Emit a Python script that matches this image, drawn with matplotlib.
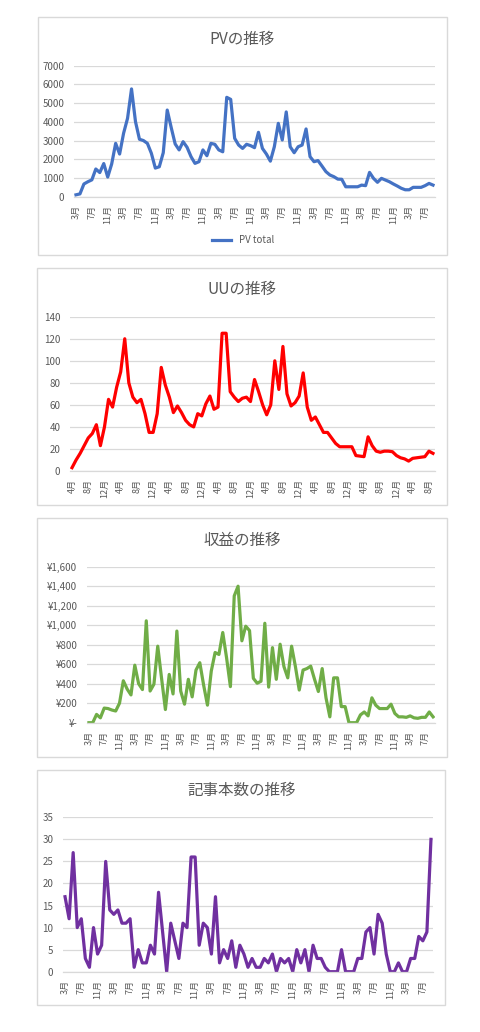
import matplotlib
matplotlib.use('Agg')
import matplotlib.pyplot as plt
from matplotlib.patches import Rectangle
from matplotlib.ticker import FuncFormatter
import numpy as np

plt.rcParams['font.family'] = ['Noto Sans CJK JP', 'DejaVu Sans']

W, H = 480, 1032

# PV (3月開始)
pv_start = 3
pv = [100, 150, 680, 800, 900, 1480, 1290, 1770, 1050, 1750,
      2850, 2280, 3390, 4190, 5760, 4010, 3070, 3000, 2850, 2320,
      1530, 1600, 2350, 4630, 3700, 2820, 2500, 2940, 2640, 2140,
      1780, 1870, 2500, 2190, 2850, 2800, 2500, 2400, 5310, 5200,
      3120, 2760, 2580, 2800, 2730, 2620, 3440, 2580, 2280, 1900,
      2670, 3920, 3030, 4530, 2670, 2350, 2670, 2760, 3620, 2140,
      1870, 1930, 1640, 1340, 1160, 1070, 940, 930, 530, 530,
      530, 530, 620, 590, 1300, 980, 770, 980, 890, 800,
      680, 570, 450, 370, 370, 500, 500, 500, 590, 710,
      620]

# UU (4月開始)
uu_start = 4
uu = [3, 10, 16, 23, 30, 34, 42, 23, 40, 65,
      58, 76, 90, 120, 80, 67, 62, 65, 52, 35,
      35, 52, 94, 78, 67, 53, 59, 53, 46, 42,
      40, 52, 50, 61, 68, 56, 58, 125, 125, 72,
      67, 63, 66, 67, 63, 83, 72, 60, 51, 60,
      100, 74, 113, 70, 59, 62, 68, 89, 58, 46,
      49, 42, 35, 35, 30, 25, 22, 22, 22, 22,
      14, 13.5, 13, 31, 23, 18, 17, 18, 18, 17.5,
      14, 12, 11, 9, 11.5, 12, 12.5, 13, 18, 16]

# 収益 (3月開始)
rev_start = 3
rev = [0, 0, 85, 50, 150, 145, 130, 120, 200, 430,
       345, 285, 590, 400, 340, 1045, 325, 395, 785, 455,
       135, 495, 295, 940, 325, 190, 445, 265, 540, 615,
       385, 180, 530, 720, 700, 925, 665, 370, 1300, 1400,
       840, 990, 945, 455, 405, 425, 1020, 365, 770, 445,
       805, 575, 460, 785, 575, 335, 540, 555, 580, 445,
       320, 555, 255, 60, 460, 460, 165, 165, 0, 0,
       0, 80, 110, 70, 255, 180, 145, 145, 145, 190,
       95, 60, 60, 55, 70, 50, 45, 55, 55, 110,
       60]

# 記事本数 (3月開始)
art_start = 3
art = [17, 12, 27, 10, 12, 3, 1, 10, 4, 6,
       25, 14, 13, 14, 11, 11, 12, 1, 5, 2,
       2, 6, 4, 18, 9, 0, 11, 7, 3, 11,
       10, 26, 26, 6, 11, 10, 4, 17, 2, 5,
       3, 7, 1, 6, 4, 1, 3, 1, 1, 3,
       2, 4, 0, 3, 2, 3, 0, 5, 2, 5,
       0, 6, 3, 3, 1, 0, 0, 0, 5, 0,
       0, 0, 3, 3, 9, 10, 4, 13, 11, 4,
       0, 0, 2, 0, 0, 3, 3, 8, 7, 9,
       30]

GRID = '#D9D9D9'
TXT = '#595959'


def rect(x0, y0, x1, y1):
    return [x0 / W, 1 - y1 / H, (x1 - x0) / W, (y1 - y0) / H]


def yen(v, pos):
    if v == 0:
        return '¥-'
    return '¥{:,.0f}'.format(v)


fig = plt.figure(figsize=(W / 100, H / 100), dpi=100)
fig.patch.set_facecolor('white')

# 外枠
for (x0, y0, x1, y1) in [(38, 17, 447, 255), (37, 268, 447, 505),
                         (37, 518, 447, 757), (37, 770, 445, 1005)]:
    fig.patches.append(Rectangle((x0 / W, 1 - y1 / H), (x1 - x0) / W, (y1 - y0) / H,
                                 transform=fig.transFigure, fill=False,
                                 edgecolor=GRID, linewidth=1.0))

charts = [
    ('PVの推移', pv, pv_start, '#4472C4', (74, 65.7, 435, 196.7), 7000, 1000, None, 39),
    ('UUの推移', uu, uu_start, '#FF0000', (70, 316.7, 435, 471), 140, 20, None, 289),
    ('収益の推移', rev, rev_start, '#70AD47', (87, 566.7, 435, 722.7), 1600, 200, yen, 540),
    ('記事本数の推移', art, art_start, '#7030A0', (63, 817.3, 433, 971.7), 35, 5, None, 790),
]

axes = []
for title, data, start, color, box, ymax, ystep, fmt, ty in charts:
    ax = fig.add_axes(rect(*box))
    n = len(data)
    x = np.arange(n)
    ax.plot(x, data, color=color, linewidth=2.3, solid_joinstyle='round')
    ax.set_xlim(-0.5, n - 0.5)
    ax.set_ylim(0, ymax)
    ax.set_yticks(np.arange(0, ymax + ystep, ystep))
    if fmt:
        ax.yaxis.set_major_formatter(FuncFormatter(fmt))
    labels = ['{}月'.format((start - 1 + i) % 12 + 1) for i in range(n)]
    ax.set_xticks(x[::4])
    ax.set_xticklabels(labels[::4], rotation=90, fontsize=6.5, color=TXT)
    ax.tick_params(axis='y', length=0, labelsize=7, labelcolor=TXT, pad=7)
    ax.tick_params(axis='x', length=0, pad=6)
    ax.grid(axis='y', color=GRID, linewidth=0.9)
    ax.set_axisbelow(True)
    for s in ['top', 'right', 'left']:
        ax.spines[s].set_visible(False)
    ax.spines['bottom'].set_color(GRID)
    ax.spines['bottom'].set_linewidth(0.9)
    ax.set_facecolor('none')
    fig.text(242 / W, 1 - ty / H, title, ha='center', va='center',
             fontsize=11.2, color=TXT)
    axes.append(ax)

axes[0].lines[0].set_label('PV total')
axes[0].legend(loc='center', bbox_to_anchor=(243 / W, 1 - 240 / H),
               bbox_transform=fig.transFigure, frameon=False,
               fontsize=7, handlelength=2.0, labelcolor=TXT)

fig.savefig('out.png', dpi=100, facecolor='white')
